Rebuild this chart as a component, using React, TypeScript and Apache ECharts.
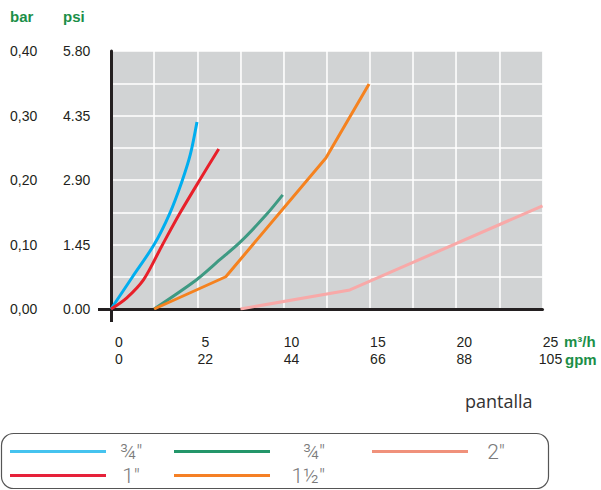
import React, { useEffect, useRef } from "react";
import * as echarts from "echarts";

// ---- tick labels ----
const flowTicks = [0, 5, 10, 15, 20, 25];
const flowM3hLabels = ["0", "5", "10", "15", "20", "25"];
const flowGpmLabels = ["0", "22", "44", "66", "88", "105"];
const pressureTicks = [0, 0.1, 0.2, 0.3, 0.4];
const barLabels = ["0,00", "0,10", "0,20", "0,30", "0,40"];
const psiLabels = ["0.00", "1.45", "2.90", "4.35", "5.80"];

// ---- series (x: m3/h, y: bar) ----
const seriesIds = ["s34a", "s1", "s34b", "s112", "s2"];
const seriesLabels = ["¾\"", "1\"", "¾\"", "1½\"", "2\""];
const seriesColors = ["#00aeef", "#e8202a", "#3e9a83", "#f5821f", "#f8a9a8"];
const legendColors = ["#45c3ef", "#e6213a", "#23966a", "#f58025", "#f0917b"];
const seriesSmooth = [true, true, true, false, false];

const data34a = [
  [0, 0], [1.25, 0.05], [2.5, 0.1], [3.4, 0.148], [4.1, 0.197], [4.6, 0.24], [4.98, 0.29],
];
const data1 = [
  [0, 0], [0.9, 0.017], [1.9, 0.046], [2.93, 0.097], [3.98, 0.148], [5.14, 0.2], [6.24, 0.248],
];
const data34b = [
  [2.5, 0], [4.94, 0.045], [6.29, 0.076], [7.5, 0.104], [8.99, 0.146], [9.95, 0.177],
];
const data112 = [
  [2.5, 0], [6.65, 0.05], [12.45, 0.234], [14.95, 0.349],
];
const data2 = [
  [7.5, 0], [13.84, 0.0295], [25, 0.16],
];
const allData = [data34a, data1, data34b, data112, data2];

const GREEN = "#1b8f48";
const DARK = "#231f20";

export default function App() {
  const ref = useRef<HTMLDivElement>(null);

  useEffect(() => {
    if (!ref.current) return;
    const chart = echarts.init(ref.current, null, { renderer: "svg" });

    const labelOf: Record<string, string> = {};
    seriesIds.forEach((id, i) => (labelOf[id] = seriesLabels[i]));

    const legendText = {
      fontFamily: "Roboto",
      fontWeight: 300,
      fontSize: 21,
      color: "#7a7a7a",
    };
    const mkLegend = (left: number, ids: string[], width: number, align: string) => ({
      orient: "vertical",
      left,
      top: 441,
      padding: 0,
      itemGap: 3,
      itemWidth: 96,
      itemHeight: 3,
      icon: "rect",
      selectedMode: false,
      data: ids.map((id) => ({
        name: id,
        itemStyle: { color: legendColors[seriesIds.indexOf(id)] },
      })),
      formatter: (name: string) => `{t|${labelOf[name]}}`,
      textStyle: {
        ...legendText,
        rich: { t: { ...legendText, width, align, lineHeight: 22 } },
      },
    });

    const extensionTick = {
      show: true,
      customValues: [0],
      length: 13,
      lineStyle: { color: DARK, width: 3 },
    };
    const gridLine = {
      show: true,
      showMinLine: false,
      lineStyle: { color: "#ffffff", width: 1.5, type: "solid" },
    };

    chart.setOption({
      animation: false,
      title: {
        text: "pantalla",
        left: 465,
        top: 392,
        padding: 0,
        textStyle: { fontFamily: "Open Sans", fontSize: 18, fontWeight: "normal", color: "#333" },
      },
      grid: {
        left: 111,
        right: 58.5,
        top: 51,
        bottom: 181,
        show: false,
        borderWidth: 0,
      },
      legend: [
        mkLegend(10, ["s34a", "s1"], 40, "center"),
        mkLegend(174, ["s34b", "s112"], 50, "right"),
        mkLegend(372, ["s2"], 46, "center"),
      ],
      xAxis: [
        {
          type: "value",
          min: 0,
          max: 25,
          interval: 2.5,
          z: 0,
          axisLine: { show: true, onZero: false, lineStyle: { color: DARK, width: 3 } },
          axisTick: { show: true, length: 0, lineStyle: { color: DARK, width: 0 } },
          splitArea: { show: true, areaStyle: { color: ["#d1d3d4"] } },
          splitLine: gridLine,
          axisLabel: {
            margin: 24,
            align: "center",
            padding: [0, 0, 0, 16],
            fontFamily: "Liberation Sans",
            fontSize: 14,
            lineHeight: 17,
            color: DARK,
            formatter: (v: number) => {
              const i = flowTicks.findIndex((t) => Math.abs(t - v) < 1e-6);
              return i < 0 ? "" : `${flowM3hLabels[i]}\n${flowGpmLabels[i]}`;
            },
          },
        },
        {
          type: "value",
          min: 0,
          max: 25,
          position: "bottom",
          z: 2,
          axisLine: { show: false },
          axisTick: extensionTick,
          axisLabel: { show: false },
          splitLine: { show: false },
        },
      ],
      yAxis: [
        {
          type: "value",
          min: 0,
          max: 0.4,
          interval: 0.05,
          z: 1,
          axisLine: { show: true, onZero: false, lineStyle: { color: DARK, width: 3 } },
          axisTick: { show: true, length: 0, lineStyle: { color: DARK, width: 0 } },
          splitLine: gridLine,
          axisLabel: {
            margin: 101,
            align: "left",
            fontFamily: "Liberation Sans",
            fontSize: 14,
            color: DARK,
            formatter: (v: number) => {
              const i = pressureTicks.findIndex((t) => Math.abs(t - v) < 1e-6);
              return i < 0 ? "" : `{a|${barLabels[i]}}{b|${psiLabels[i]}}`;
            },
            rich: {
              a: { width: 53, fontFamily: "Liberation Sans", fontSize: 14, color: DARK },
              b: { fontFamily: "Liberation Sans", fontSize: 14, color: DARK },
            },
          },
        },
        {
          type: "value",
          min: 0,
          max: 0.4,
          position: "left",
          z: 2,
          axisLine: { show: false },
          axisTick: extensionTick,
          axisLabel: { show: false },
          splitLine: { show: false },
        },
      ],
      graphic: [
        {
          type: "rect",
          shape: { x: 1.5, y: 433.5, width: 547, height: 55, r: 12 },
          style: { fill: "none", stroke: "#555", lineWidth: 1.2 },
        },
        {
          type: "text",
          x: 10,
          y: 16,
          style: { text: "bar", fill: GREEN, font: "bold 15px 'Liberation Sans'", verticalAlign: "middle" },
        },
        {
          type: "text",
          x: 63,
          y: 16,
          style: { text: "psi", fill: GREEN, font: "bold 15px 'Liberation Sans'", verticalAlign: "middle" },
        },
        {
          type: "text",
          x: 564,
          y: 341,
          style: { text: "m³/h", fill: GREEN, font: "bold 15px 'Liberation Sans'", verticalAlign: "middle" },
        },
        {
          type: "text",
          x: 565,
          y: 359,
          style: { text: "gpm", fill: GREEN, font: "bold 15px 'Liberation Sans'", verticalAlign: "middle" },
        },
      ],
      series: seriesIds.map((id, i) => ({
        name: id,
        type: "line",
        xAxisIndex: 0,
        yAxisIndex: 0,
        data: allData[i],
        smooth: seriesSmooth[i] ? 0.3 : false,
        showSymbol: false,
        symbol: "none",
        color: seriesColors[i],
        lineStyle: { color: seriesColors[i], width: 3 },
        z: 3,
      })),
    });

    return () => chart.dispose();
  }, []);

  return (
    <div
      ref={ref}
      style={{ position: "fixed", left: 0, top: 0, width: 601, height: 490, background: "#fff" }}
    />
  );
}
